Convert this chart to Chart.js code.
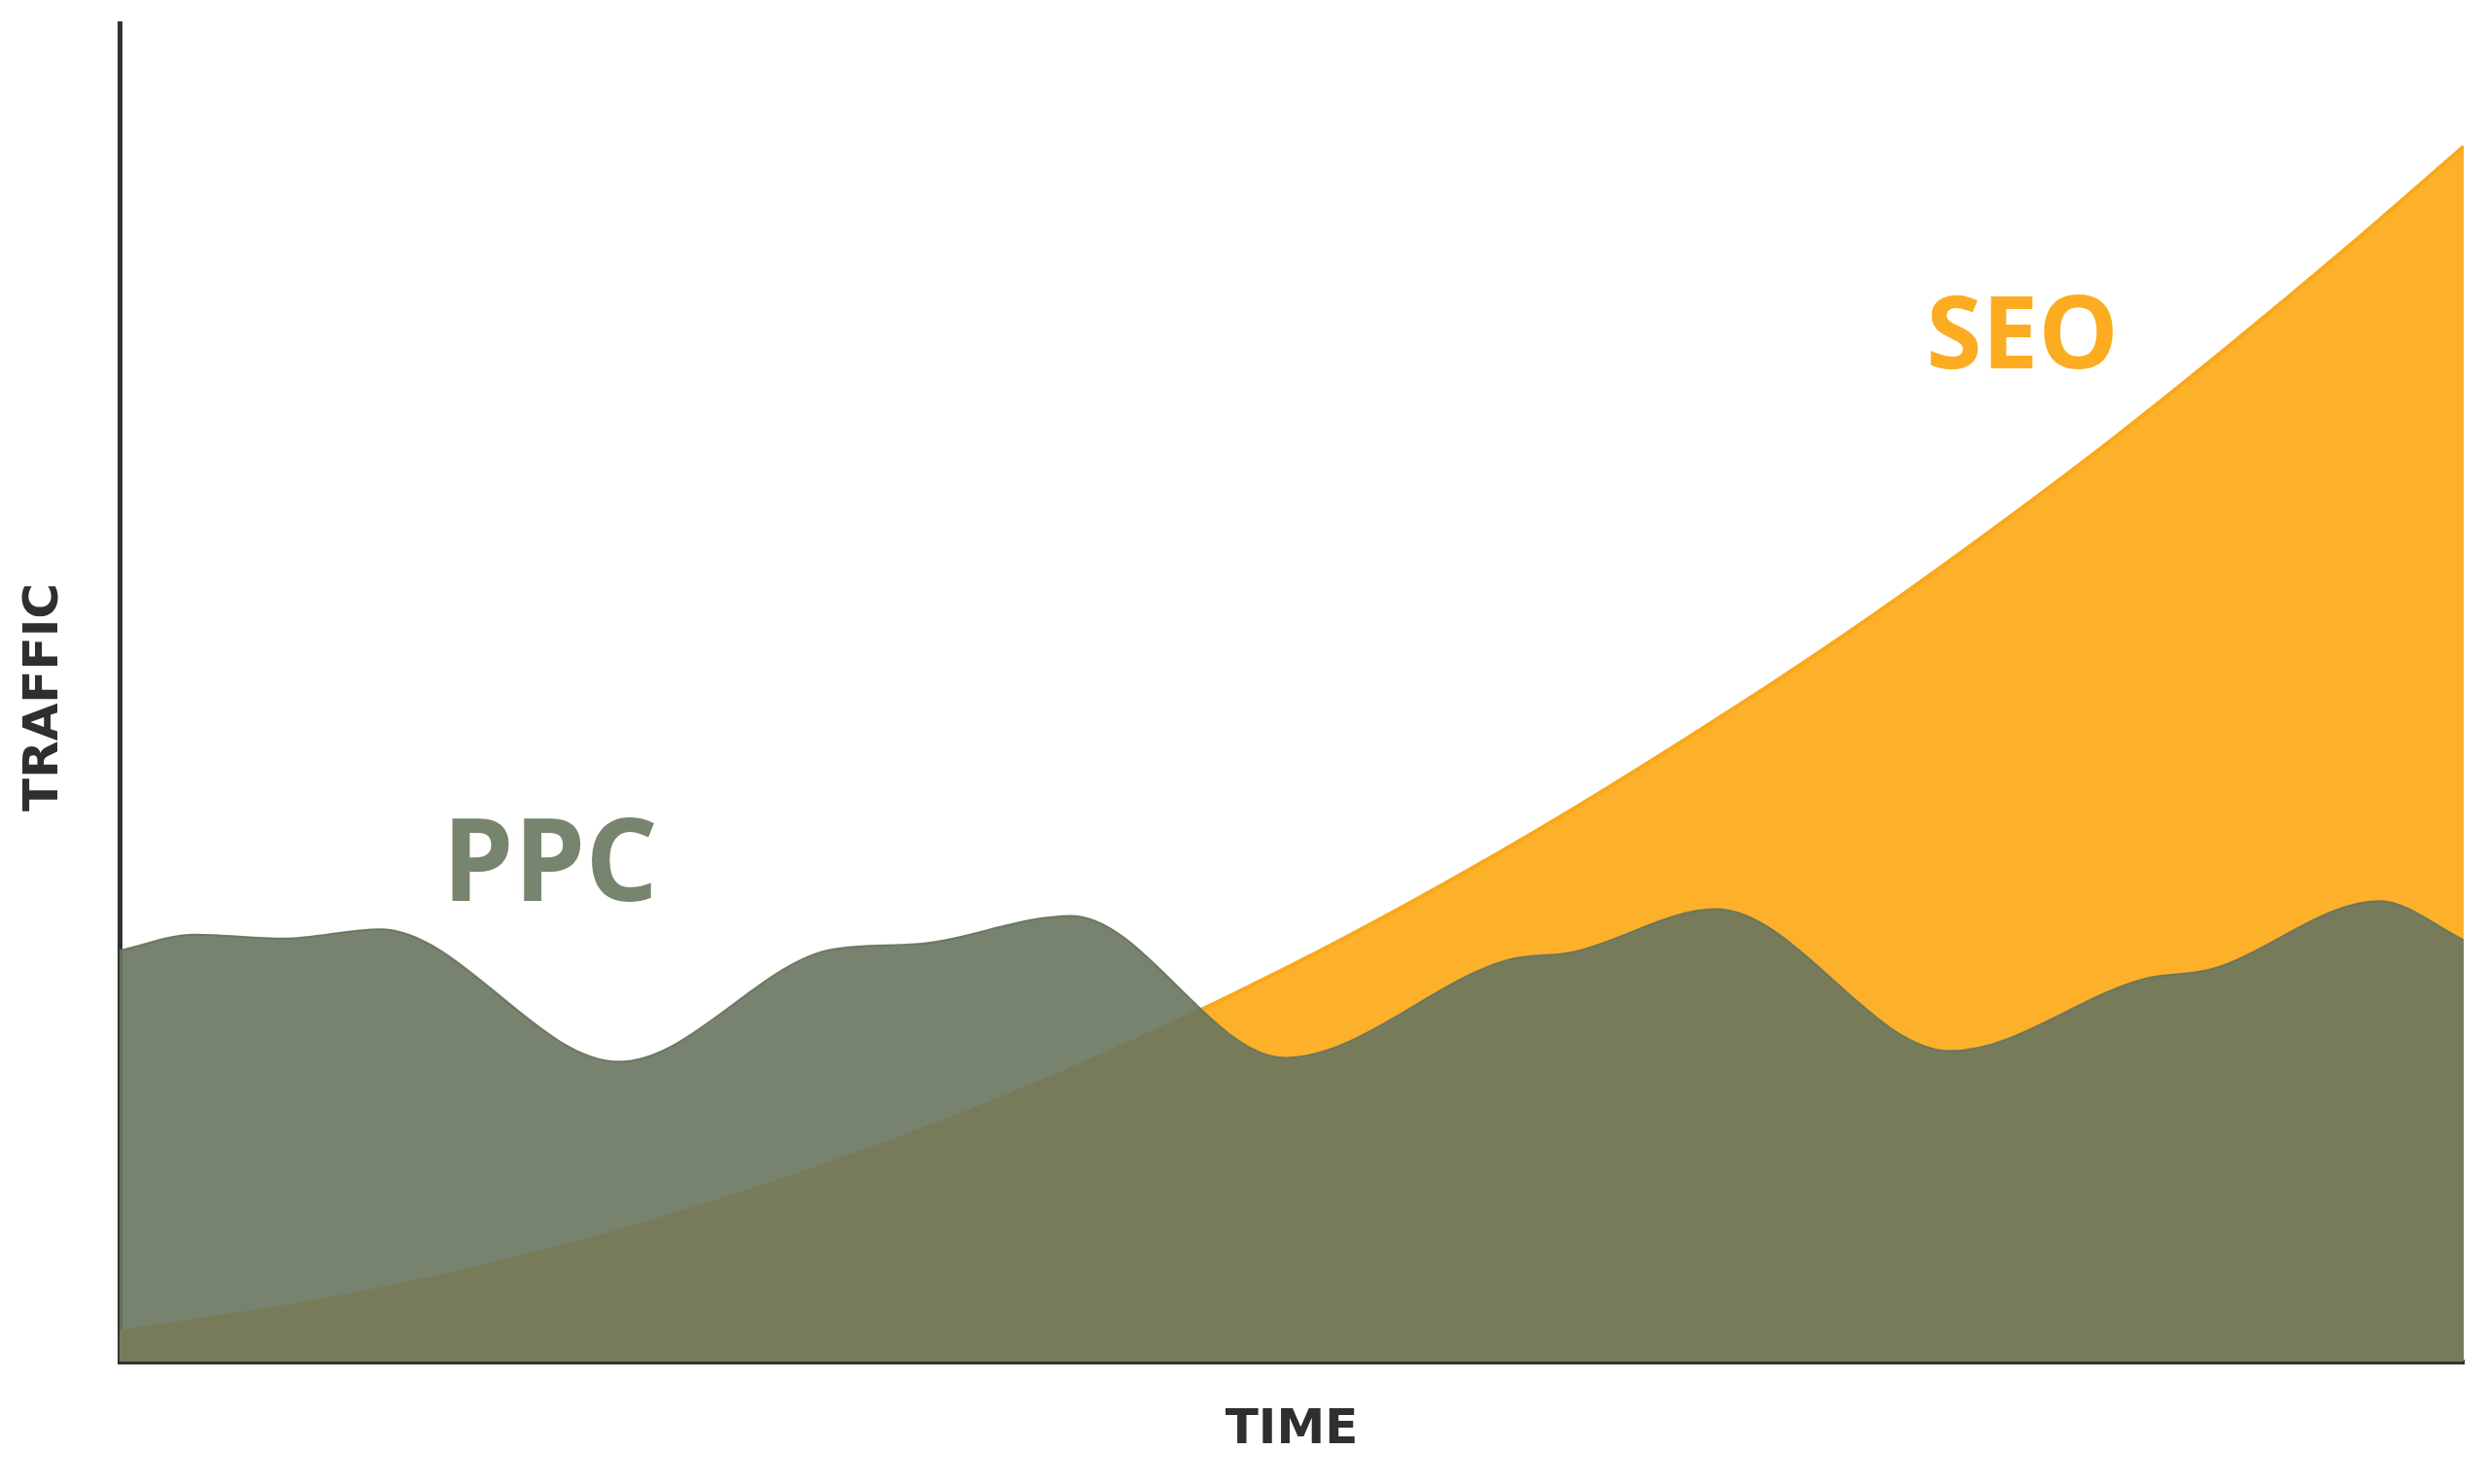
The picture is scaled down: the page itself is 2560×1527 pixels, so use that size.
<!DOCTYPE html>
<html>
<head>
<meta charset="utf-8">
<script src="https://cdn.jsdelivr.net/npm/chart.js@4.4.1/dist/chart.umd.min.js"></script>
<style>
  html, body { margin: 0; padding: 0; background: #fff; }
  #wrap { width: 2560px; height: 1527px; position: relative; }
</style>
</head>
<body>
<div id="wrap"><canvas id="myChart"></canvas></div>
<script>
// time runs 0..100 across the plot, traffic 0..100 up the plot
const seoX = [0, 10, 20, 30, 40, 50, 60, 70, 75, 80, 85, 90, 95, 100];
const seoY = [2.2, 5.0, 9.1, 14.6, 21.4, 29.6, 39.2, 50.1, 56.0, 62.3, 68.9, 75.9, 83.2, 90.8];

const ppcX = [0, 3.2, 7.0, 11.1, 21.3, 30.4, 34.0, 40.6, 49.7, 59.2, 62.0, 68.1, 78.1, 86.4, 89.2, 96.4, 100];
const ppcY = [30.7, 31.9, 31.6, 32.3, 22.4, 30.8, 31.2, 33.3, 22.7, 30.0, 30.6, 33.8, 23.2, 28.6, 29.3, 34.4, 31.5];

const xTitle = "TIME";
const yTitle = "TRAFFIC";
const ppcLabel = "PPC";
const seoLabel = "SEO";

const toPoints = (xs, ys) => xs.map((x, i) => ({ x: x, y: ys[i] }));

const labelsPlugin = {
    id: 'freeLabels',
    afterDraw: (chart) => {
        const ctx = chart.ctx;
        const area = chart.chartArea;
        ctx.save();
        ctx.fillStyle = '#2f2f2f';
        ctx.font = 'bold 50px "DejaVu Sans"';
        ctx.textAlign = 'center';
        ctx.textBaseline = 'middle';
        ctx.fillText(xTitle, (area.left + area.right) / 2, 1472);

        ctx.save();
        ctx.translate(46, (area.top + area.bottom) / 2 + 5);
        ctx.rotate(-Math.PI / 2);
        ctx.fillText(yTitle, 0, 0);
        ctx.restore();

        ctx.textAlign = 'left';
        ctx.textBaseline = 'alphabetic';
        ctx.font = 'bold 118px "Open Sans"';
        ctx.fillStyle = '#77846e';
        ctx.fillText(ppcLabel, 455, 927, 222);

        ctx.font = 'bold 104px "Open Sans"';
        ctx.fillStyle = '#fcac20';
        ctx.fillText(seoLabel, 1982, 379, 198);
        ctx.restore();
    }
};

const ctx = document.getElementById("myChart").getContext("2d");

const myChart = new Chart(ctx, {
    type: 'line',
    plugins: [labelsPlugin],
    data: {
        datasets: [{
            label: ppcLabel,
            data: toPoints(ppcX, ppcY),
            fill: 'origin',
            cubicInterpolationMode: 'monotone',
            backgroundColor: 'rgba(104, 117, 94, 0.9)',
            borderColor: 'rgba(104, 117, 94, 0.95)',
            borderWidth: 2,
            pointRadius: 0
        }, {
            label: seoLabel,
            data: toPoints(seoX, seoY),
            fill: 'origin',
            cubicInterpolationMode: 'monotone',
            backgroundColor: '#fdb02a',
            borderColor: '#f9a81a',
            borderWidth: 4,
            pointRadius: 0
        }]
    },
    options: {
        responsive: true,
        maintainAspectRatio: false,
        devicePixelRatio: 1,
        animation: false,
        layout: {
            padding: { left: 115, right: 25, top: 24, bottom: 118 }
        },
        plugins: {
            legend: { display: false },
            tooltip: { enabled: false }
        },
        scales: {
            x: {
                type: 'linear',
                min: 0,
                max: 100,
                grid: { display: false },
                ticks: { display: false },
                border: { display: true, color: '#333333', width: 5 }
            },
            y: {
                min: 0,
                max: 100,
                grid: { display: false },
                ticks: { display: false },
                border: { display: true, color: '#333333', width: 5 }
            }
        }
    }
});
</script>
</body>
</html>
